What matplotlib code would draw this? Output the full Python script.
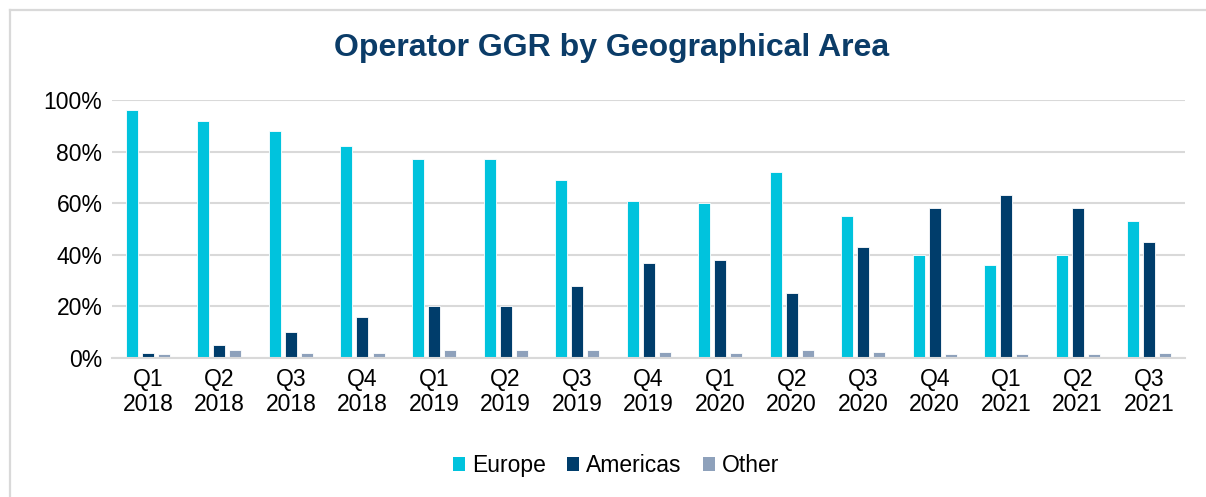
import numpy as np
from matplotlib import pyplot as plt
from matplotlib.lines import Line2D

plt.rcParams['font.family'] = ['Liberation Sans', 'DejaVu Sans']

quarters = ['Q1\n2018', 'Q2\n2018', 'Q3\n2018', 'Q4\n2018',
            'Q1\n2019', 'Q2\n2019', 'Q3\n2019', 'Q4\n2019',
            'Q1\n2020', 'Q2\n2020', 'Q3\n2020', 'Q4\n2020',
            'Q1\n2021', 'Q2\n2021', 'Q3\n2021']
europe = [96, 92, 88, 82, 77, 77, 69, 61, 60, 72, 55, 40, 36, 40, 53]
americas = [2, 5, 10, 16, 20, 20, 28, 37, 38, 25, 43, 58, 63, 58, 45]
other = [1.5, 3, 2, 2, 3, 3, 3, 2.5, 2, 3, 2.5, 1.5, 1.5, 1.5, 2]

series = [('Europe', europe, '#00C3DD'),
          ('Americas', americas, '#003D6B'),
          ('Other', other, '#8EA1BB')]

fig = plt.figure(figsize=(12.06, 4.97), dpi=100)
ax = fig.add_axes([0.093, 0.2797, 0.8896, 0.5191])

# chart border (only top and left edges are visible in the crop)
W, H = 1206, 497
fig.lines.append(Line2D([9.5 / W, 1.0], [1 - 9.5 / H, 1 - 9.5 / H],
                        transform=fig.transFigure, color='#D9D9D9', linewidth=1.6))
fig.lines.append(Line2D([9.5 / W, 9.5 / W], [0.0, 1 - 9.5 / H],
                        transform=fig.transFigure, color='#D9D9D9', linewidth=1.6))

x = np.arange(len(quarters))
width = 0.168
step = 0.224
for i, (name, vals, col) in enumerate(series):
    ax.bar(x + (i - 1) * step, np.array(vals) / 100, width, color=col,
           edgecolor='white', linewidth=0.6, label=name, zorder=3)

ax.set_xlim(-0.5, len(quarters) - 0.5)
ax.set_ylim(0, 1.0)
ax.set_yticks(np.arange(0, 1.01, 0.2))
ax.set_yticklabels([f'{int(round(v * 100))}%' for v in np.arange(0, 1.01, 0.2)], fontsize=16.5)
ax.set_xticks(x)
ax.set_xticklabels(quarters, fontsize=16.5, linespacing=1.1)
ax.tick_params(axis='both', length=0, colors='black')
ax.tick_params(axis='y', pad=7)
ax.tick_params(axis='x', pad=7)
ax.grid(axis='y', color='#D9D9D9', linewidth=1.5, zorder=0)
for s in ['top', 'right', 'left']:
    ax.spines[s].set_visible(False)
ax.spines['bottom'].set_color('#D9D9D9')
ax.spines['bottom'].set_linewidth(1.5)
ax.spines['bottom'].set_zorder(4)

fig.text(0.507, 0.903, 'Operator GGR by Geographical Area', ha='center', va='center',
         fontsize=23, fontweight='bold', color='#0B3C68')

leg = fig.legend(loc='center', bbox_to_anchor=(0.511, 0.063), ncol=3, frameon=False,
                 fontsize=16.5, handlelength=0.52, handleheight=0.52, handletextpad=0.3,
                 columnspacing=0.95)
for h in leg.legend_handles:
    h.set_linewidth(0)

fig.savefig('out.png', dpi=100)
